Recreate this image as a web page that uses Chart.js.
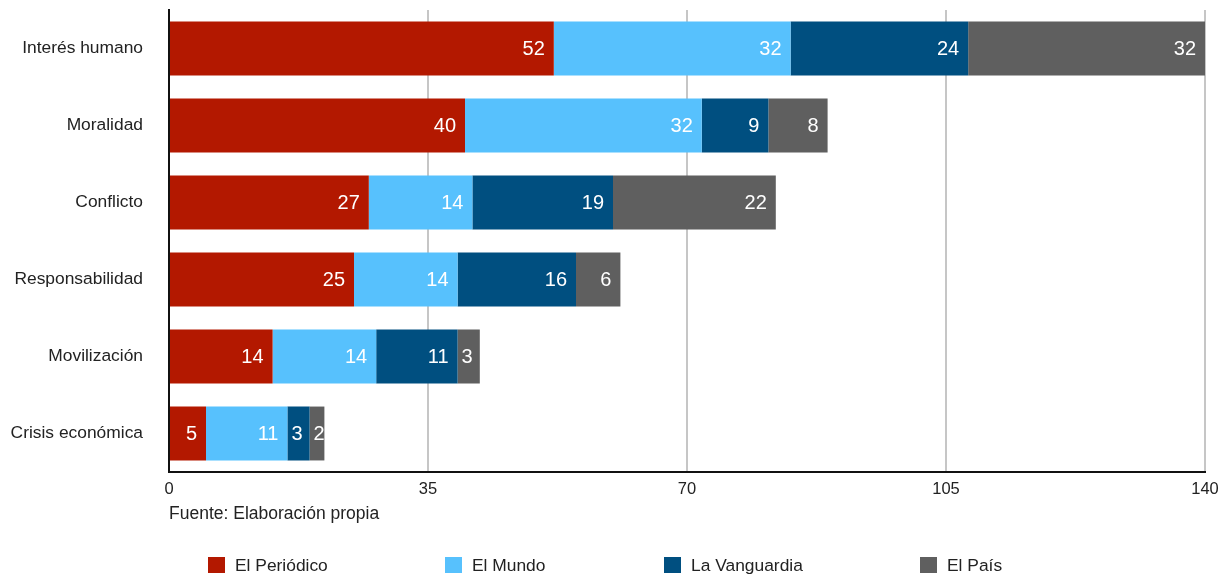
<!DOCTYPE html>
<html>
<head>
<meta charset="utf-8">
<script src="https://cdn.jsdelivr.net/npm/chart.js@4.4.1/dist/chart.umd.min.js"></script>
<style>
  html, body { margin: 0; padding: 0; background: #fff; }
  #wrap { position: relative; width: 1227px; height: 574px; overflow: hidden; }
  #fuente { position: absolute; left: 169px; top: 505px; font: 17.5px "Liberation Sans", Arial, sans-serif; color: #222; line-height: 17.5px; }
  .leg { position: absolute; top: 557px; height: 17px; font: 17.4px "Liberation Sans", Arial, sans-serif; color: #222; line-height: 17px; white-space: nowrap; }
  .leg span.box { display: inline-block; width: 17px; height: 16px; vertical-align: top; margin-right: 10px; }
</style>
</head>
<body>
<div id="wrap">
  <canvas id="chart" width="1227" height="574"></canvas>
  <div id="fuente">Fuente: Elaboración propia</div>
  <div id="legend"></div>
</div>
<script>
// categorías y series
const categorias = ['Interés humano', 'Moralidad', 'Conflicto', 'Responsabilidad', 'Movilización', 'Crisis económica'];
const series = ['El Periódico', 'El Mundo', 'La Vanguardia', 'El País'];
const elPeriodico = [52, 40, 27, 25, 14, 5];
const elMundo = [32, 32, 14, 14, 14, 11];
const laVanguardia = [24, 9, 19, 16, 11, 3];
const elPais = [32, 8, 22, 6, 3, 2];
const ticksX = [0, 35, 70, 105, 140];

const colores = ['#b31800', '#57c1fd', '#004f80', '#5f5f5f'];
const valores = [elPeriodico, elMundo, laVanguardia, elPais];

// etiquetas blancas dentro de cada segmento
const etiquetas = {
    id: 'etiquetas',
    afterDatasetsDraw(chart) {
        const ctx = chart.ctx;
        ctx.save();
        ctx.font = '20px "Liberation Sans", Arial, sans-serif';
        ctx.fillStyle = '#fff';
        ctx.textBaseline = 'middle';
        ctx.textAlign = 'right';
        chart.data.datasets.forEach((ds, i) => {
            chart.getDatasetMeta(i).data.forEach((bar, j) => {
                const txt = String(ds.data[j]);
                const w = ctx.measureText(txt).width;
                const left = bar.base, right = bar.x;
                let x = right - 9;
                if (x - w < left + 4) x = left + 4 + w;
                ctx.save();
                ctx.beginPath();
                ctx.rect(left, bar.y - bar.height / 2, right - left, bar.height);
                ctx.clip();
                ctx.fillText(txt, x, bar.y + 1);
                ctx.restore();
            });
        });
        ctx.restore();
    }
};

const ctx = document.getElementById('chart').getContext('2d');
const chart = new Chart(ctx, {
    type: 'bar',
    data: {
        labels: categorias,
        datasets: series.map((s, i) => ({
            label: s,
            data: valores[i],
            backgroundColor: colores[i],
            borderWidth: 0,
            barPercentage: 1,
            categoryPercentage: 0.7
        }))
    },
    options: {
        indexAxis: 'y',
        responsive: false,
        animation: false,
        layout: { padding: { top: 10, right: 22, bottom: 72, left: 0 } },
        plugins: { legend: { display: false }, tooltip: { enabled: false } },
        scales: {
            x: {
                stacked: true,
                min: 0,
                max: 140,
                afterBuildTicks: (s) => { s.ticks = ticksX.map(v => ({ value: v })); },
                afterFit: (s) => { s.height = 30; s.paddingLeft = 0; s.paddingRight = 0; },
                grid: { color: '#c6c6c6', lineWidth: 2, drawTicks: false },
                border: { color: '#111', width: 2 },
                ticks: { color: '#222', font: { family: '"Liberation Sans", Arial, sans-serif', size: 16.5 }, padding: 8, maxRotation: 0 }
            },
            y: {
                stacked: true,
                afterFit: (s) => { s.width = 169; s.paddingTop = 0; s.paddingBottom = 0; },
                grid: { display: false, drawTicks: false },
                border: { color: '#111', width: 2 },
                ticks: { color: '#222', font: { family: '"Liberation Sans", Arial, sans-serif', size: 17.4 }, padding: 26 }
            }
        }
    },
    plugins: [etiquetas]
});

// leyenda inferior
const legendX = [208, 445, 664, 920];
const leg = document.getElementById('legend');
series.forEach((s, i) => {
    const d = document.createElement('div');
    d.className = 'leg';
    d.style.left = legendX[i] + 'px';
    d.innerHTML = `<span class="box" style="background:${colores[i]}"></span>${s}`;
    leg.appendChild(d);
});
</script>
</body>
</html>
